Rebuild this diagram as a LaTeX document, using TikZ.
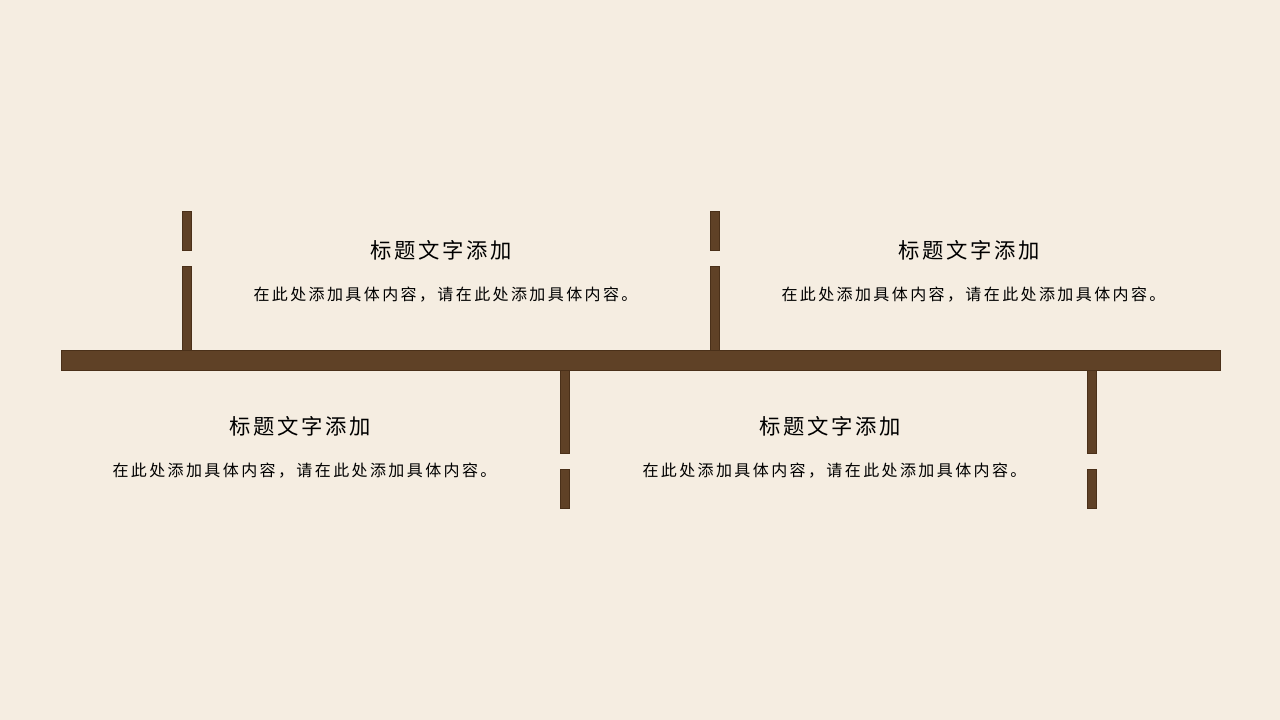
\documentclass[tikz,border=0pt]{standalone}
\usepackage{fontspec}
\newfontfamily\cjktitle[LetterSpace=12]{Noto Sans CJK SC}
\newfontfamily\cjkbody[LetterSpace=15]{Noto Sans CJK SC}
\definecolor{bg}{HTML}{F5EDE1}
\definecolor{barfill}{HTML}{5F4126}
\definecolor{barline}{HTML}{4A3019}
\begin{document}
\begin{tikzpicture}[x=0.75pt,y=-0.75pt,
  barstyle/.style={fill=barfill,draw=barline,line width=0.6pt},
  titletext/.style={inner sep=0pt,anchor=center,font=\cjktitle\fontsize{16pt}{16pt}\selectfont,text=black},
  bodytext/.style={inner sep=0pt,anchor=center,font=\cjkbody\fontsize{12pt}{12pt}\selectfont,text=black}]
\fill[bg] (0,0) rectangle (1280,720);
\useasboundingbox (0,0) rectangle (1280,720);
% main bar
\filldraw[barstyle] (61,350) rectangle (1220,370);
% upper ticks
\filldraw[barstyle] (182,211) rectangle (191,250);
\filldraw[barstyle] (182,266) rectangle (191,350);
\filldraw[barstyle] (710,211) rectangle (719,250);
\filldraw[barstyle] (710,266) rectangle (719,350);
% lower ticks
\filldraw[barstyle] (560,370) rectangle (569,453);
\filldraw[barstyle] (560,469) rectangle (569,508);
\filldraw[barstyle] (1087,370) rectangle (1096,453);
\filldraw[barstyle] (1087,469) rectangle (1096,508);
% texts
\node[titletext] (t1) at (441,250) {标题文字添加};
\node[bodytext] (b1) at (445.5,295) {在此处添加具体内容，请在此处添加具体内容。};
\node[titletext] (t2) at (969,250) {标题文字添加};
\node[bodytext] (b2) at (973.5,295) {在此处添加具体内容，请在此处添加具体内容。};
\node[titletext] (t3) at (300,426) {标题文字添加};
\node[bodytext] (b3) at (304.5,471) {在此处添加具体内容，请在此处添加具体内容。};
\node[titletext] (t4) at (830,426) {标题文字添加};
\node[bodytext] (b4) at (834.5,471) {在此处添加具体内容，请在此处添加具体内容。};
\end{tikzpicture}
\end{document}
